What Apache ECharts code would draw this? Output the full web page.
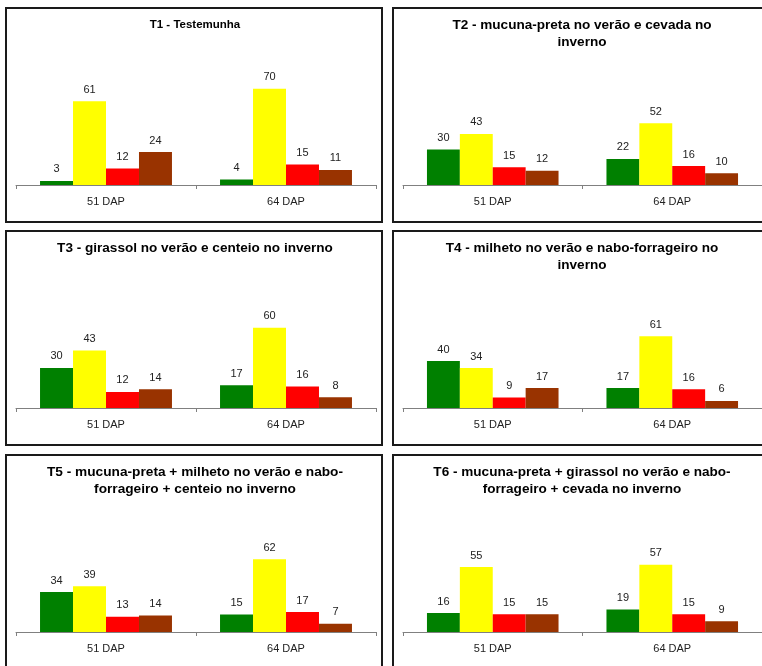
<!DOCTYPE html>
<html>
<head>
<meta charset="utf-8">
<script src="https://cdn.jsdelivr.net/npm/echarts@6/dist/echarts.min.js"></script>
<style>
html,body{margin:0;padding:0;background:#fff;}
#chart{width:762px;height:666px;}
</style>
</head>
<body>
<div id="chart"></div>
<script>
// ---- data ----
const categories = ['51 DAP', '64 DAP'];
const seriesNames = ['Série 1', 'Série 2', 'Série 3', 'Série 4'];
const colors = ['#008000', '#FFFF00', '#FF0000', '#993300'];

const titles = [
  'T1 - Testemunha',
  'T2 - mucuna-preta no verão e cevada no\ninverno',
  'T3 - girassol no verão e centeio no inverno',
  'T4 - milheto no verão e nabo-forrageiro no\ninverno',
  'T5 - mucuna-preta + milheto no verão e nabo-\nforrageiro + centeio no inverno',
  'T6 - mucuna-preta + girassol no verão e nabo-\nforrageiro + cevada no inverno'
];

// each panel: one array per series, values for [51 DAP, 64 DAP]
const t1 = [[3, 4], [61, 70], [12, 15], [24, 11]];
const t2 = [[30, 22], [43, 52], [15, 16], [12, 10]];
const t3 = [[30, 17], [43, 60], [12, 16], [14, 8]];
const t4 = [[40, 17], [34, 61], [9, 16], [17, 6]];
const t5 = [[34, 15], [39, 62], [13, 17], [14, 7]];
const t6 = [[16, 19], [55, 57], [15, 15], [15, 9]];
const panelsData = [t1, t2, t3, t4, t5, t6];

// ---- layout ----
const boxes = [
  {x: 6, y: 8}, {x: 393, y: 8},
  {x: 6, y: 231}, {x: 393, y: 231},
  {x: 6, y: 455}, {x: 393, y: 455}
];
const plotH = [110, 95, 107, 94, 94, 94.5];
const titleSize = [10, 12, 12, 12, 12, 12];
const titleScaleX = [1.15, 1.13, 1.13, 1.13, 1.14, 1.13];
const titleDy = [9, 9.5, 9.5, 9.5, 9, 9];
const BOX_W = 376, BOX_H = 214;
const FONT = '"Liberation Sans", Arial, sans-serif';

const grid = [], xAxis = [], yAxis = [], series = [], graphic = [];

boxes.forEach((b, i) => {
  const axisY = b.y + 177;
  grid.push({left: b.x + 10, top: axisY - plotH[i], width: 360, height: plotH[i], containLabel: false});
  xAxis.push({
    type: 'category', gridIndex: i, data: categories,
    axisLine: {lineStyle: {color: '#808080', width: 1}},
    axisTick: {show: true, length: 4, lineStyle: {color: '#808080'}},
    axisLabel: {fontSize: 11, color: '#222', fontFamily: FONT, margin: 11},
    splitLine: {show: false}
  });
  yAxis.push({type: 'value', gridIndex: i, min: 0, max: 80, show: false, splitLine: {show: false}});
  panelsData[i].forEach((vals, s) => {
    series.push({
      type: 'bar', name: seriesNames[s], xAxisIndex: i, yAxisIndex: i,
      data: vals, barGap: 0, barCategoryGap: '26.7%',
      itemStyle: {color: colors[s]},
      label: {show: true, position: 'top', distance: 6, fontSize: 11, color: '#222', fontFamily: FONT},
      animation: false
    });
  });
  graphic.push({
    type: 'text', x: b.x + BOX_W / 2 + 1, y: b.y + titleDy[i], scaleX: titleScaleX[i], silent: true,
    style: {
      text: titles[i], fontSize: titleSize[i], fontWeight: 'bold', fontFamily: FONT,
      fill: '#000', align: 'center', verticalAlign: 'top', lineHeight: 17
    }
  });
  graphic.push({
    type: 'rect', shape: {x: b.x, y: b.y, width: BOX_W, height: BOX_H},
    style: {fill: 'none', stroke: '#1a1a1a', lineWidth: 2}, silent: true, z: 100
  });
});

const chart = echarts.init(document.getElementById('chart'), null, {renderer: 'canvas'});
chart.setOption({
  backgroundColor: '#fff',
  animation: false,
  grid, xAxis, yAxis, series, graphic
});
</script>
</body>
</html>
